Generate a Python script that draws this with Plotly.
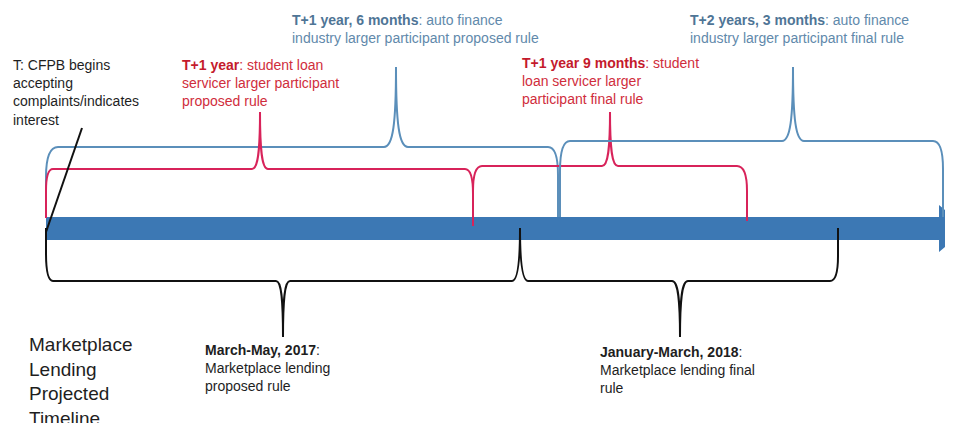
import plotly.graph_objects as go

# ---------------- data ----------------
# Brace milestones along the timeline arrow (diagram units, 0..953 wide canvas)
brace_names = ["auto_proposed", "student_proposed", "student_final", "auto_final",
               "ml_proposed", "ml_final"]
brace_start = [46, 46, 473, 560, 46, 520]
brace_end = [558, 473, 747, 943, 520, 838]
brace_peak = [396, 260, 610, 793, 283, 680]

label_bold = ["T+1 year, 6 months", "T+1 year", "T+1 year 9 months",
              "T+2 years, 3 months", "March-May, 2017", "January-March, 2018"]
label_rest = [": auto finance<br>industry larger participant proposed rule",
              ": student loan<br>servicer larger participant<br>proposed rule",
              ": student<br>loan servicer larger<br>participant final rule",
              ": auto finance<br>industry larger participant final rule",
              ":<br>Marketplace lending<br>proposed rule",
              ":<br>Marketplace lending final<br>rule"]
start_label = "T: CFPB begins<br>accepting<br>complaints/indicates<br>interest"
title_label = "Marketplace<br>Lending<br>Projected<br>Timeline"

# ---------------- styles ----------------
FONT = "Liberation Sans, Arial, sans-serif"
ARROW = "#3c78b4"
BLUE_LINE = "#5b8fba"
RED_LINE = "#d8235a"
BLACK = "#111111"
BLUE_TXT, BLUE_BOLD = "#6189ab", "#4f7596"
RED_TXT, RED_BOLD = "#d02d3c", "#c41a2c"
TXT = "#1e1e1e"

# per-brace geometry (style): base y at each end, line y, tip y, cusp half-width, corners
geo = {
    "auto_proposed":    dict(yb0=217, yb1=217, yl=147, yt=67, cw=12, rx0=12, ry0=30, rx1=10, ry1=28, c=BLUE_LINE),
    "student_proposed": dict(yb0=218, yb1=226, yl=169, yt=112, cw=8, rx0=7, ry0=22, rx1=8, ry1=25, c=RED_LINE),
    "student_final":    dict(yb0=226, yb1=221, yl=166, yt=112, cw=8, rx0=9, ry0=25, rx1=10, ry1=25, c=RED_LINE),
    "auto_final":       dict(yb0=217, yb1=217, yl=141, yt=67, cw=11, rx0=10, ry0=30, rx1=10, ry1=28, c=BLUE_LINE),
    "ml_proposed":      dict(yb0=228, yb1=228, yl=281, yt=337, cw=7, rx0=7, ry0=28, rx1=8, ry1=53, c=BLACK),
    "ml_final":         dict(yb0=228, yb1=228, yl=281, yt=337, cw=8, rx0=8, ry0=53, rx1=8, ry1=25, c=BLACK),
}


def brace_path(x0, x1, xp, yb0, yb1, yl, yt, cw, rx0, ry0, rx1, ry1, **_):
    d = 1 if yb0 > yl else -1
    h = yt - yl
    p = [f"M {x0},{yb0}",
         f"L {x0},{yl + d * ry0}",
         f"Q {x0},{yl} {x0 + rx0},{yl}",
         f"L {xp - cw},{yl}",
         f"C {xp - cw * 0.25},{yl} {xp},{yl + h * 0.3} {xp},{yt}",
         f"C {xp},{yl + h * 0.3} {xp + cw * 0.25},{yl} {xp + cw},{yl}",
         f"L {x1 - rx1},{yl}",
         f"Q {x1},{yl} {x1},{yl + d * ry1}",
         f"L {x1},{yb1}"]
    return " ".join(p)


shapes = []
# timeline arrow
shapes.append(dict(type="path", xref="x", yref="y",
                   path="M 46,217 L 939,217 L 939,205 L 967,228.5 L 939,252 L 939,240 L 46,240 Z",
                   fillcolor=ARROW, line=dict(width=0)))
for name, x0, x1, xp in zip(brace_names, brace_start, brace_end, brace_peak):
    g = geo[name]
    shapes.append(dict(type="path", xref="x", yref="y",
                       path=brace_path(x0, x1, xp, **g),
                       line=dict(color=g["c"], width=2), fillcolor="rgba(0,0,0,0)"))
# pointer line from the "T" label to the arrow start
shapes.append(dict(type="line", xref="x", yref="y", x0=46, y0=232, x1=82, y1=128,
                   line=dict(color=BLACK, width=2)))

fig = go.Figure()
fig.add_trace(go.Scatter(x=[8, 953], y=[8, 423], mode="markers",
                         marker=dict(opacity=0), hoverinfo="skip", showlegend=False))

label_pos = {
    "auto_proposed": (291, 11, BLUE_BOLD, BLUE_TXT),
    "student_proposed": (181, 56, RED_BOLD, RED_TXT),
    "student_final": (521, 54, RED_BOLD, RED_TXT),
    "auto_final": (689, 11, BLUE_BOLD, BLUE_TXT),
    "ml_proposed": (204, 341, TXT, TXT),
    "ml_final": (599, 343, TXT, TXT),
}
ann = []
for name, b, r in zip(brace_names, label_bold, label_rest):
    x, y, cb, cr = label_pos[name]
    txt = f"<b><span style='color:{cb}'>{b}</span></b><span style='color:{cr}'>{r}</span>"
    ann.append(dict(x=x, y=y, xref="x", yref="y", xanchor="left", yanchor="top",
                    text=txt, showarrow=False, align="left", borderpad=0,
                    font=dict(family=FONT, size=14, color=cr)))
ann.append(dict(x=12, y=56, xref="x", yref="y", xanchor="left", yanchor="top",
                text=start_label, showarrow=False, align="left", borderpad=0,
                font=dict(family=FONT, size=14, color=TXT)))
ann.append(dict(x=28, y=333, xref="x", yref="y", xanchor="left", yanchor="top",
                text=title_label, showarrow=False, align="left", borderpad=0,
                font=dict(family=FONT, size=19, color=TXT)))

# The page body has an 8px default margin, so the figure is 8px smaller and the
# axis ranges start at 8 to keep a 1:1 mapping to the 953x423 window.
fig.update_layout(
    width=945, height=415,
    margin=dict(l=0, r=0, t=0, b=0),
    paper_bgcolor="white", plot_bgcolor="white",
    xaxis=dict(range=[8, 953], visible=False, fixedrange=True),
    yaxis=dict(range=[423, 8], visible=False, fixedrange=True),
    shapes=shapes, annotations=ann, showlegend=False,
)
fig.write_html("out.html")
